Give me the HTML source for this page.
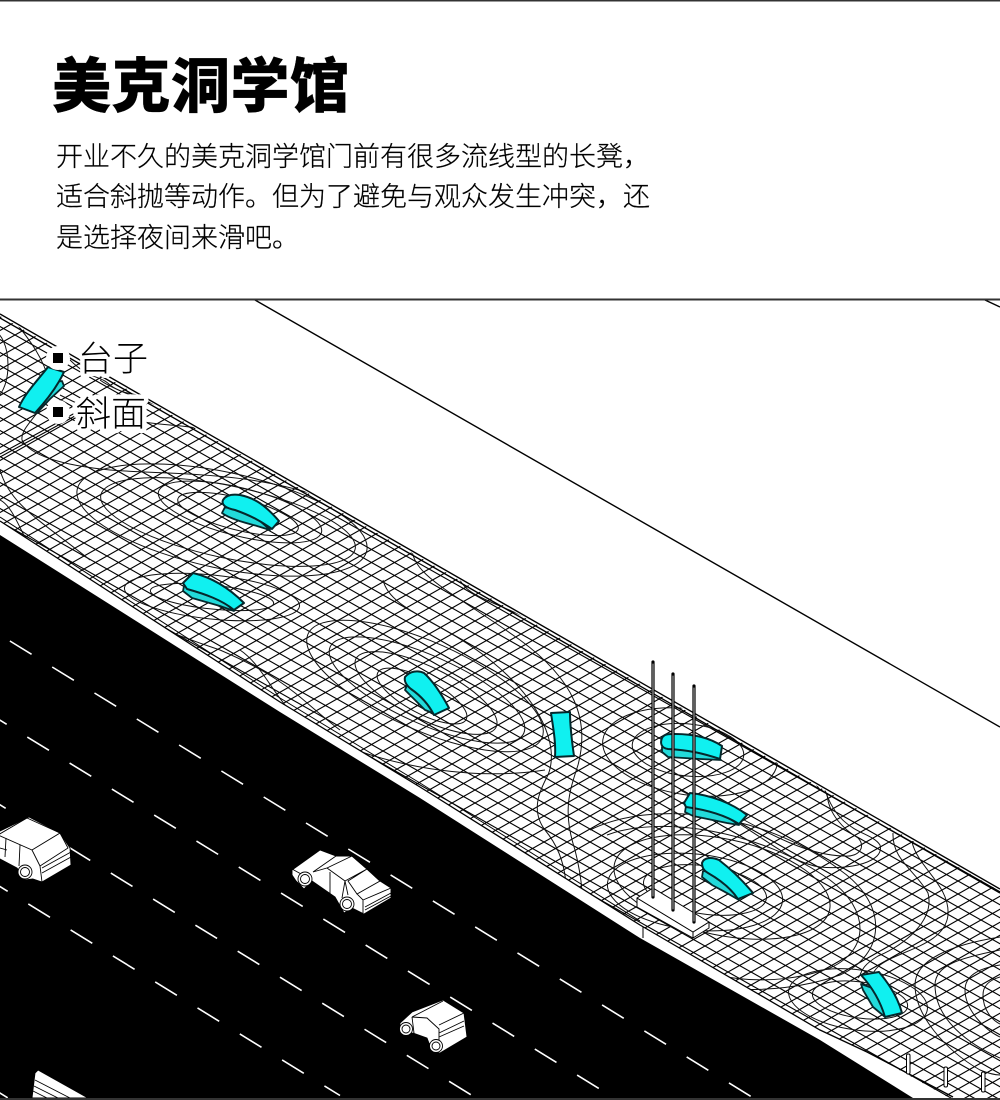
<!DOCTYPE html>
<html lang="zh">
<head>
<meta charset="utf-8">
<title>美克洞学馆</title>
<style>
html,body{margin:0;padding:0;background:#fff}
svg{display:block}
.t{font-family:"Liberation Sans","Noto Sans CJK SC",sans-serif}
.c{fill:none;stroke:#111;stroke-width:1}
.r{fill:#10f0f0;stroke:#04282c;stroke-width:2;stroke-linejoin:round}
.u{fill:#22dada;stroke:#04282c;stroke-width:1.8;stroke-linejoin:round}
.car{fill:#fff;stroke:#000;stroke-width:.9;stroke-linejoin:round}
.l{fill:none;stroke:#000;stroke-width:.9}
</style>
</head>
<body>
<svg xmlns="http://www.w3.org/2000/svg" width="1000" height="1100" viewBox="0 0 1000 1100">
<defs>
<pattern id="g" patternUnits="userSpaceOnUse" width="23" height="13" patternTransform="translate(15 10)">
<path d="M-1-.565 24 13.565M-1 13.565 24-.565" stroke="#000" stroke-width="1.15" fill="none"/>
</pattern>
<clipPath id="area"><rect x="0" y="300" width="1000" height="798"/></clipPath>
<clipPath id="plaza"><path d="M0 316 1000 891V1100H953L867 1052 820 1030 640 925 420 787 280 702 0 521Z"/></clipPath>
</defs>
<rect width="1000" height="1100" fill="#fff"/>

<text class="t" x="52" y="107" font-size="59" font-weight="900" letter-spacing=".5" stroke="#000" stroke-width=".3">美克洞学馆</text>
<g class="t" font-size="27" font-weight="300" fill="#000" stroke="#000" stroke-width=".2">
<text x="56" y="166">开业不久的美克洞学馆门前有很多流线型的长凳，</text>
<text x="56" y="206">适合斜抛等动作。但为了避免与观众发生冲突，还</text>
<text x="56" y="247">是选择夜间来滑吧。</text>
</g>

<g clip-path="url(#area)">
<!-- plaza grid -->
<path d="M0 316 1000 891V1100H953L867 1052 820 1030 640 925 420 787 280 702 0 521Z" fill="url(#g)"/>
<!-- contours -->
<g clip-path="url(#plaza)">
<g class="c">
<ellipse cx="222" cy="520" rx="148" ry="48" transform="rotate(12 222 520)"/>
<ellipse cx="228" cy="522" rx="130" ry="36" transform="rotate(12 228 522)"/>
<ellipse cx="240" cy="512" rx="84" ry="24" transform="rotate(14 240 512)"/>
<ellipse cx="238" cy="514" rx="62" ry="16" transform="rotate(14 238 514)"/>
<ellipse cx="212" cy="597" rx="88" ry="22" transform="rotate(6 212 597)"/>
<ellipse cx="212" cy="597" rx="62" ry="12" transform="rotate(6 212 597)"/>
<ellipse cx="425" cy="686" rx="128" ry="44" transform="rotate(24 425 686)"/>
<ellipse cx="427" cy="690" rx="106" ry="34" transform="rotate(24 427 690)"/>
<ellipse cx="426" cy="693" rx="78" ry="26" transform="rotate(26 426 693)"/>
<ellipse cx="422" cy="696" rx="50" ry="17" transform="rotate(28 422 696)"/>
<ellipse cx="690" cy="752" rx="88" ry="43" transform="rotate(8 690 752)"/>
<ellipse cx="688" cy="750" rx="56" ry="26" transform="rotate(6 688 750)"/>
<ellipse cx="695" cy="892" rx="88" ry="38" transform="rotate(6 695 892)"/>
<ellipse cx="705" cy="890" rx="62" ry="24" transform="rotate(8 705 890)"/>
<ellipse cx="722" cy="887" rx="110" ry="48" transform="rotate(12 722 887)"/>
<path d="M607 835C660 815 760 830 830 880 870 910 870 950 830 968 770 990 700 980 660 950"/>
<path d="M590 830C650 800 760 810 840 870 890 905 885 955 840 975 770 1000 680 990 640 965"/>
<path d="M827 793C828 815 845 830 858 838 866 846 860 857 845 856 810 856 770 835 730 812"/>
<path d="M825 790C840 835 870 830 880 845 885 862 850 870 820 867 785 862 760 830 680 790"/>
<path d="M893 833C892 860 915 870 928 893 935 920 905 945 878 956 858 968 862 975 858 978"/>
<path d="M912 842C918 868 950 885 948 915 945 945 900 950 880 965 865 978 870 990 885 1006"/>
<ellipse cx="858" cy="1000" rx="70" ry="30" transform="rotate(8 858 1000)"/>
<ellipse cx="860" cy="1000" rx="48" ry="18" transform="rotate(8 860 1000)"/>
<path d="M1000 937C950 945 915 960 915 985 915 1015 945 1050 980 1070 990 1074 995 1075 1000 1075"/>
<path d="M1000 950C960 958 935 965 935 985 935 1020 970 1045 1000 1058"/>
<path d="M1000 965C980 968 965 975 965 990 965 1010 985 1030 1000 1037"/>
<path d="M1000 977C990 980 983 985 983 995 983 1010 992 1020 1000 1024"/>
<path d="M383 580C390 610 440 620 490 660 540 700 560 745 548 775 540 790 530 810 545 830 570 860 570 900 560 930"/>
<path d="M412 545C410 575 450 590 520 640 575 680 590 720 578 765 570 790 562 810 575 850 585 890 585 920 575 950"/>
<path d="M458 575C465 600 500 600 570 640 640 680 730 700 800 770"/>
<path d="M505 590C530 610 620 640 700 700 760 740 800 760 820 790"/>
<path d="M240 650C270 670 280 720 330 740 400 770 480 780 545 770"/>
<path d="M0 500C20 510 25 560 60 580 90 595 130 620 220 650 290 680 300 700 340 730"/>
<path d="M0 470C10 505 40 520 90 560"/>
<ellipse cx="-8" cy="365" rx="16" ry="34"/>
<path d="M12 318C30 340 45 360 50 385 48 410 20 425 22 440 30 455 60 465 110 470 170 475 250 470 330 500 400 530 470 550 560 590 640 620 690 660 770 700"/>
<path d="M60 395C90 410 110 420 170 425 250 430 320 470 410 510 480 540 600 590 680 640"/>
<path d="M100 380C120 395 190 415 260 445 330 475 420 520 510 560"/>
<path d="M70 360C90 380 100 375 110 385 130 400 150 390 180 410"/>
</g>
</g>
<!-- edges -->
<path d="M0 314 1000 889M0 318 1000 893" fill="none" stroke="#000" stroke-width="1.4"/>
<path d="M255 300 1000 727M985 300 1000 307" fill="none" stroke="#000" stroke-width="1.4"/>
<path d="M0 457 75 416M0 454 75 413" fill="none" stroke="#000" stroke-width="1.1"/>
<path d="M0 521 280 702 420 787 640 925 820 1030 867 1052 953 1097" fill="none" stroke="#000" stroke-width="1.3"/>
<path d="M0 517 280 698 420 783 640 921" fill="none" stroke="#000" stroke-width="1"/>
<!-- road -->
<path d="M0 535 280 712 420 798 640 938 820 1040 913 1098H0Z" fill="#000"/>
<!-- dashes -->
<g stroke="#fff" stroke-width="1.6" stroke-dasharray="25.45 24.2" fill="none">
<path d="M-32.4 615 790 1120.5"/>
<path d="M-15 711 620 1101.5"/>
<path d="M-16 795 490 1106.5"/>
<path d="M-14 878 340 1095.5"/>
<path d="M-14 1084.5 30 1111.5"/>
</g>

<!-- cyan ramps -->
<path class="u" d="M62 381 64 386 50 399 37 413 30 405 50 383Z"/>
<path class="r" d="M48 367 64 372C58 385 47 400 35 413L19 407C25 393 38 380 48 367Z"/>
<path class="u" d="M225 507 222 513C230 519 246 523 257 526L270 530 250 512Z"/>
<path class="r" d="M223 500C226 495 233 494 240 495 255 498 265 505 279 521L272 529C262 522 252 516 235 510 226 508 221 505 223 500Z"/>
<path class="u" d="M184 586 183 591 192 598 220 606 234 611 215 594Z"/>
<path class="r" d="M183 583 193 573C210 577 228 587 244 603L234 610C222 600 205 594 187 589Z"/>
<path class="u" d="M407 685 405 690 425 710 433 713 428 698Z"/>
<path class="r" d="M405 677C410 671 418 670 424 673 434 682 442 695 449 708L434 715C429 705 421 696 411 689 406 685 404 681 405 677Z"/>
<path class="r" d="M551 713 570 712C570 727 572 742 574 756L555 757C556 742 553 727 551 713Z"/>
<path class="u" d="M662 747 662 752 668 757 700 759 721 760 695 745Z"/>
<path class="r" d="M662 738C664 734 668 734 675 734 695 734 710 738 722 746L720 759C705 754 690 750 668 749 661 748 660 743 662 738Z"/>
<path class="u" d="M686 806 685 812 693 816 727 823 739 825 710 805Z"/>
<path class="r" d="M684 803 690 793C710 795 732 803 747 815L739 824C725 815 708 810 686 807Z"/>
<path class="u" d="M703 871 702 877 712 885 727 893 739 900 720 873Z"/>
<path class="r" d="M702 863C704 857 712 857 719 860 732 870 743 881 753 893L738 899C732 890 722 881 708 873 703 870 702 867 702 863Z"/>
<path class="u" d="M861 984 863 990 873 1007 885 1017 878 990Z"/>
<path class="r" d="M861 975 879 972C890 985 898 998 902 1013L885 1017C880 1000 872 987 861 975Z"/>

<!-- posts & base -->
<g stroke="#000" stroke-width="1" fill="#fff" stroke-linejoin="round">
<path d="M637 898V907L693 938 709 928V922L693 932Z"/>
<path d="M637 898 653 888 709 922 693 932Z"/>
<path d="M693 932V938" fill="none"/>
<path d="M643 927V938" fill="none"/>
</g>
<g fill="none" stroke-linecap="round">
<g stroke="#000" stroke-width="3.2">
<path d="M653 662V897M673 674V910M694 686V922"/>
</g>
<g stroke="#bbb" stroke-width="1">
<path d="M653 664V896M673 676V909M694 688V921"/>
</g>
</g>
<g fill="#fff" stroke="#000" stroke-width="1">
<rect x="906.5" y="1054" width="3.5" height="20" rx="1.5"/>
<rect x="944" y="1067" width="3.5" height="20" rx="1.5"/>
<rect x="981.5" y="1072" width="3.5" height="20" rx="1.5"/>
</g>

<!-- car 1: sedan -->
<path class="car" d="M292 870 320 850 336 856 352 856 367 869 380 881 391 888V898L364 914 352 908 344 913 335 897 312 881 304 889 296 881 292 875Z"/>
<path class="l" d="M313 872 336 856M292 869 312 880M327 868 352 856 367 869 345 881ZM313 872 327 868 345 881 348 895M348 881 367 869 380 881 357 894ZM348 881 357 894 363 900 391 888M363 900V913M330 872 330 894M345 881 342 898M365 907 391 893M365 910 391 896"/>
<g class="car"><circle cx="305" cy="879" r="7"/><circle cx="305" cy="879" r="4.5"/><circle cx="347" cy="904" r="7"/><circle cx="347" cy="904" r="4.5"/></g>
<!-- car 2: small -->
<path class="car" d="M400 1023 412 1012 443 1000 464 1013 467 1037 440 1053 432 1051 427 1038 413 1033 405 1035 400 1028Z"/>
<path class="l" d="M412 1017 443 1001M412 1017 414 1033M412 1017 427 1018 439 1029 439 1052M439 1025 464 1013M439 1033 464 1021M439 1037 464 1026"/>
<g class="car"><circle cx="406" cy="1029" r="6.5"/><circle cx="406" cy="1029" r="4"/><circle cx="436" cy="1046" r="6.5"/><circle cx="436" cy="1046" r="4"/></g>
<!-- car 3: van -->
<path class="car" d="M-2 832 29 817 60 833 70 848 71 865 42 882 33 879 25 880 17 868-2 858Z"/>
<path class="l" d="M-2 835 27 818 60 833 32 850ZM32 850 60 833 68 848 40 866ZM32 850 40 866 42 882M42 868 71 852M42 873 71 857M-2 835 32 850M6 838 5 857M20 845 19 866M0 848 7 850"/>
<g class="car"><circle cx="25" cy="872" r="7"/><circle cx="25" cy="872" r="4.5"/></g>
<!-- car 4: bottom -->
<path class="car" d="M38 1070 88 1098H32L35 1073Z"/>
<path class="l" d="M35 1080 70 1098M34 1086 58 1098M33 1091 47 1098"/>

<!-- labels -->
<g class="t" font-size="35" fill="#000" stroke="#fff" stroke-width="9" stroke-linejoin="round" paint-order="stroke" font-weight="300">
<text x="78" y="371">台子</text>
<text x="76" y="426">斜面</text>
</g>
<circle cx="58" cy="358" r="12" fill="#fff"/>
<circle cx="58" cy="412" r="12" fill="#fff"/>
<rect x="53" y="353" width="10" height="10" fill="#000"/>
<rect x="53" y="407" width="10" height="10" fill="#000"/>
</g>

<!-- frame -->
<rect x="0" y="0" width="1000" height="1.5" fill="#333"/>
<rect x="0" y="298.5" width="1000" height="2" fill="#333"/>
<rect x="0" y="1098" width="1000" height="2" fill="#333"/>
</svg>
</body>
</html>
